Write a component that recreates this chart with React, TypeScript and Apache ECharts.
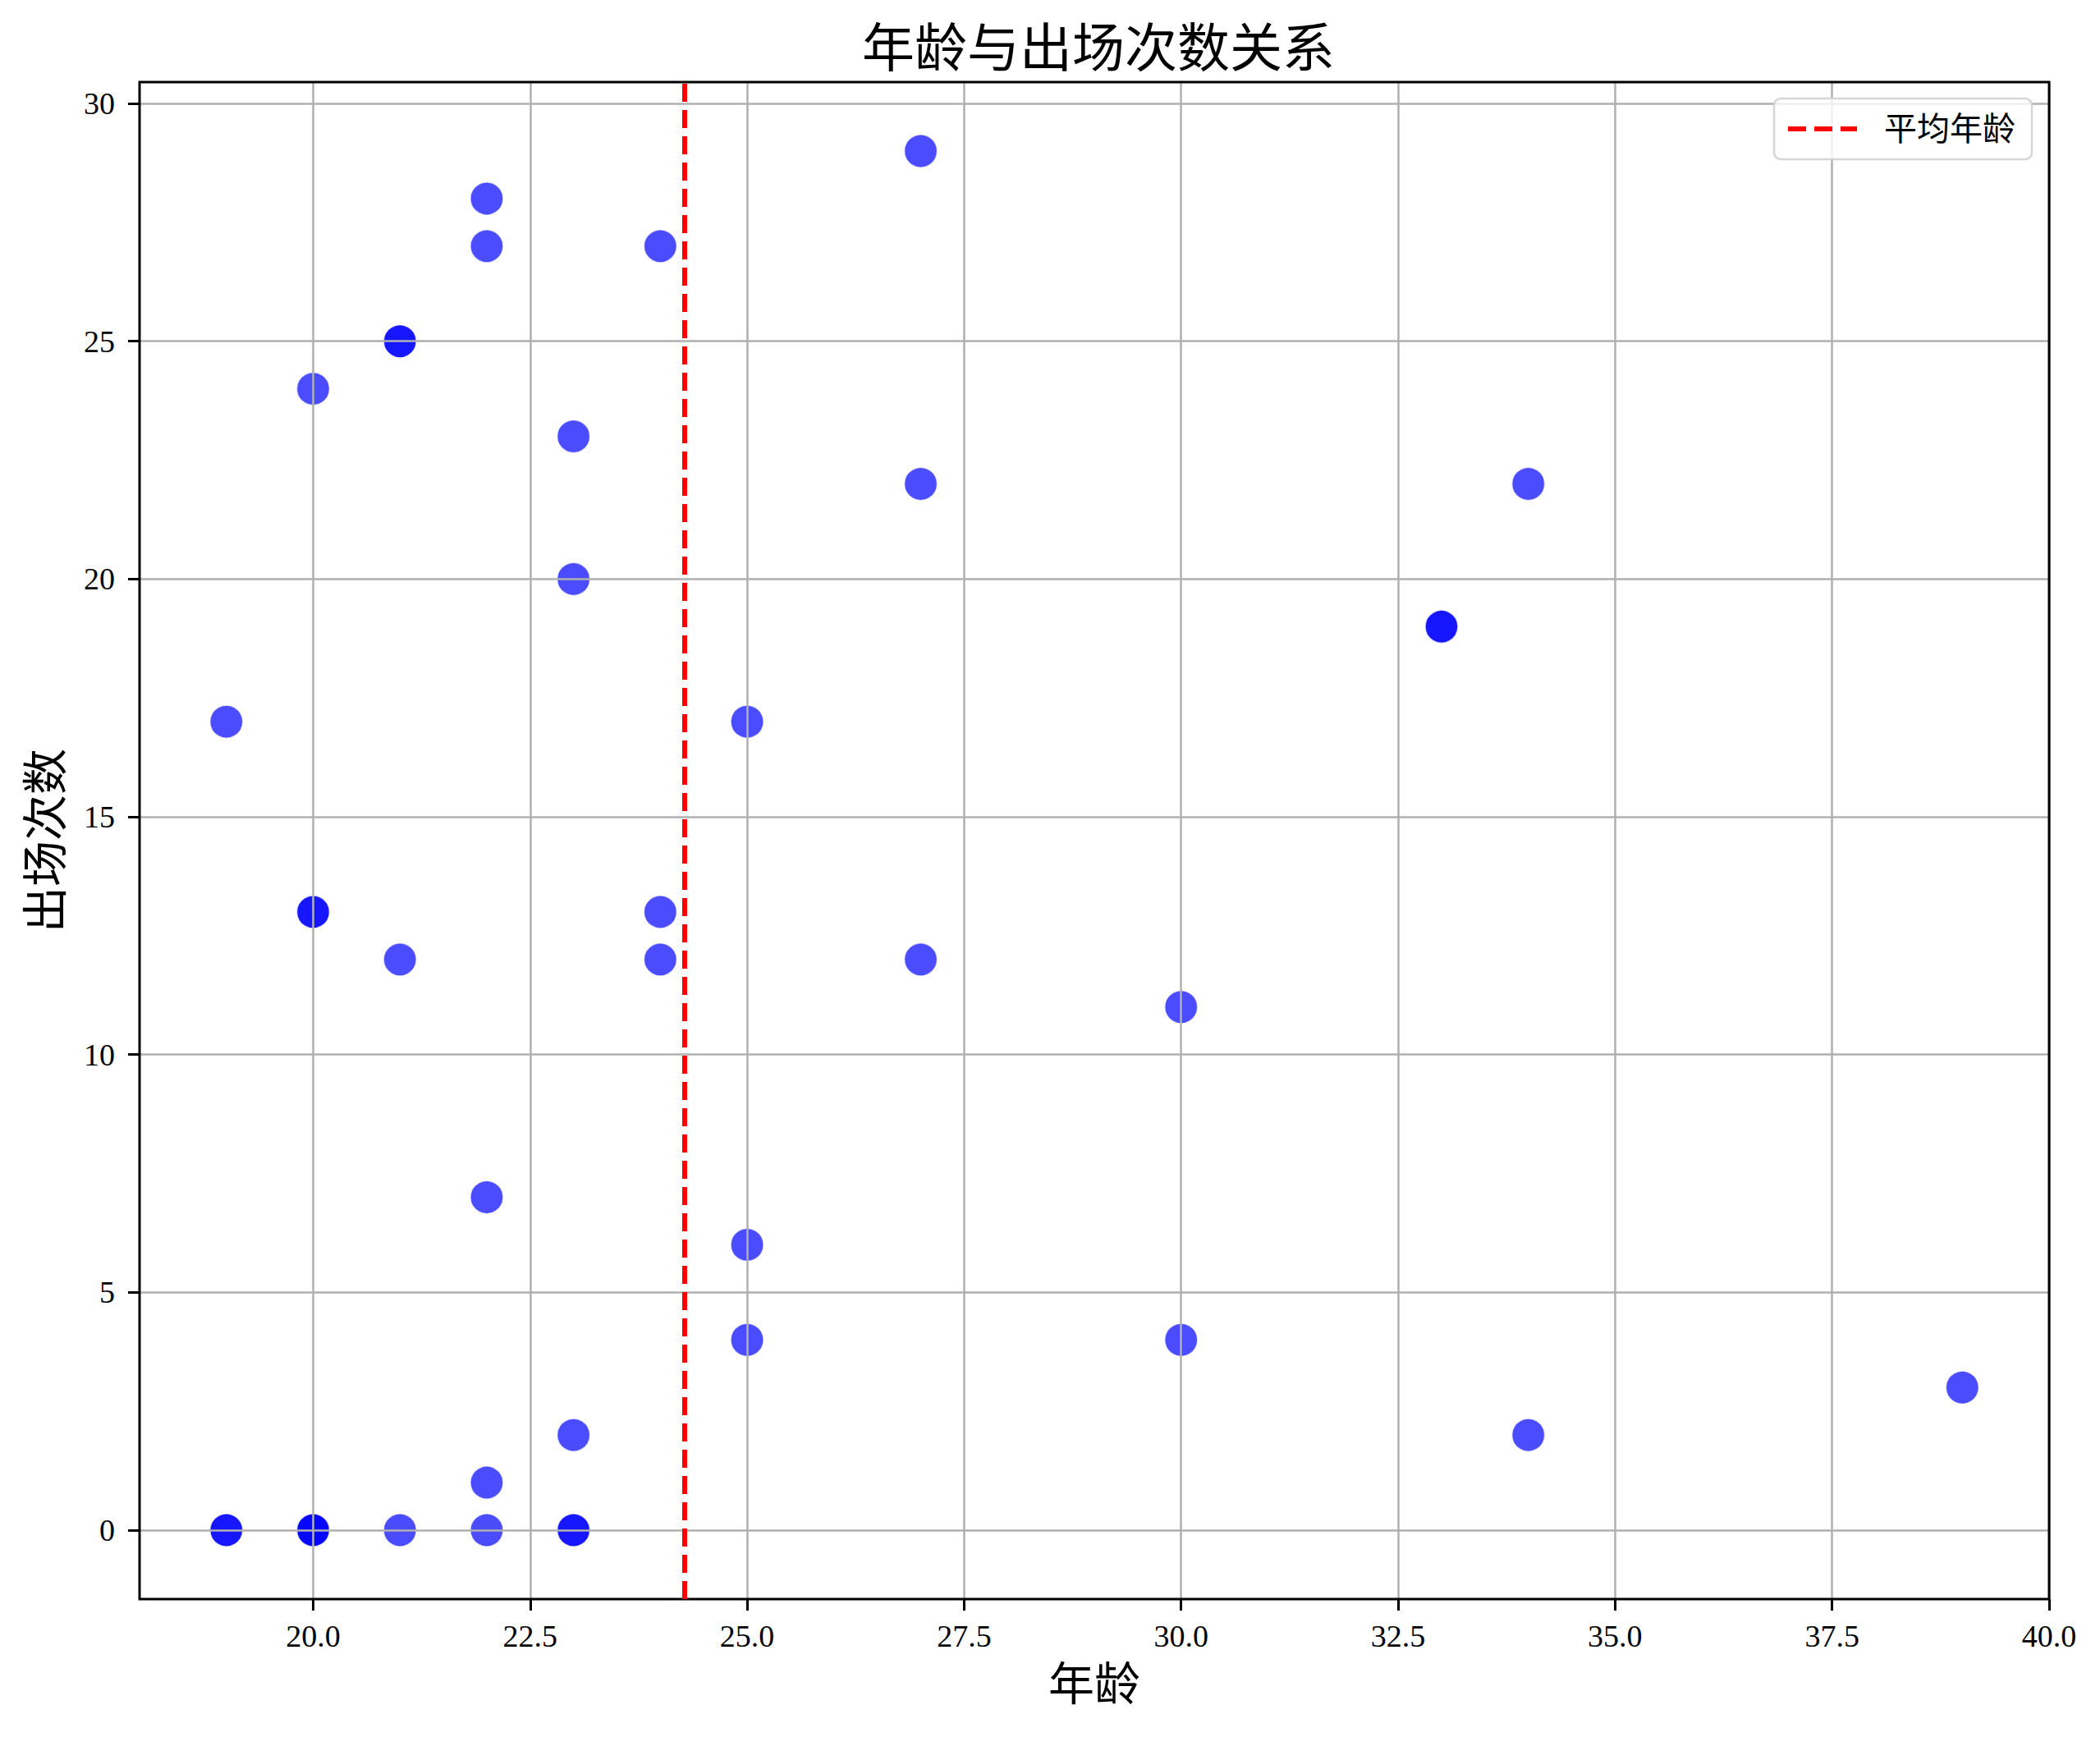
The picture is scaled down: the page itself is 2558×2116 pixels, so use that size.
import React, { useEffect, useRef } from "react";
import * as echarts from "echarts";

// Data (overlapping duplicates included)
const AGES = [
  19, 19, 19,
  20, 20, 20, 20, 20, 20,
  21, 21, 21, 21,
  22, 22, 22, 22, 22,
  23, 23, 23, 23, 23,
  24, 24, 24,
  25, 25, 25,
  27, 27, 27,
  30, 30,
  33, 33,
  34, 34,
  39,
];
const APPEARANCES = [
  17, 0, 0,
  24, 13, 13, 0, 0, 0,
  25, 25, 12, 0,
  28, 27, 7, 1, 0,
  23, 20, 2, 0, 0,
  27, 13, 12,
  17, 6, 4,
  29, 22, 12,
  11, 4,
  19, 19,
  22, 2,
  3,
];
const X_TICKS = [20, 22.5, 25, 27.5, 30, 32.5, 35, 37.5, 40];
const Y_TICKS = [0, 5, 10, 15, 20, 25, 30];
const X_RANGE = [18, 40];
const Y_RANGE = [-1.45, 30.45];

const TITLE = "年龄与出场次数关系";
const X_NAME = "年龄";
const Y_NAME = "出场次数";
const MEAN_NAME = "平均年龄";

const FONT = "'Liberation Serif', 'Noto Sans CJK SC', serif";
const DASH_ICON = "path://M0,0h22v6h-22z M32,0h22v6h-22z M64,0h20v6h-20z";

export default function App() {
  const ref = useRef<HTMLDivElement>(null);
  useEffect(() => {
    if (!ref.current) return;
    const chart = echarts.init(ref.current, undefined, { renderer: "svg" });
    const meanAge = AGES.reduce((a, b) => a + b, 0) / AGES.length;
    const points = AGES.map((a, i) => [a, APPEARANCES[i]]);
    const gridColor = "#b0b0b0";
    chart.setOption({
      animation: false,
      backgroundColor: "#ffffff",
      title: {
        text: TITLE,
        left: 1333,
        textAlign: "center",
        top: 22,
        textStyle: { fontFamily: FONT, fontSize: 64, fontWeight: "normal", color: "#000" },
      },
      legend: {
        right: 83,
        top: 120,
        z: 5,
        orient: "vertical",
        itemWidth: 84,
        itemHeight: 6,
        padding: [16, 20, 16, 17],
        backgroundColor: "rgba(255,255,255,0.8)",
        borderColor: "#d6d6d6",
        borderWidth: 2.5,
        borderRadius: 8,
        itemStyle: { color: "#ff0000", borderWidth: 0 },
        textStyle: {
          fontFamily: FONT,
          fontSize: 40,
          lineHeight: 42,
          color: "#000",
          padding: [0, 0, 0, 28],
        },
        data: [{ name: MEAN_NAME, icon: DASH_ICON }],
      },
      grid: {
        left: 170,
        top: 100,
        right: 62,
        bottom: 168,
        z: 4,
        show: true,
        borderColor: "#000",
        borderWidth: 3,
        backgroundColor: "transparent",
        containLabel: false,
      },
      xAxis: {
        type: "value",
        min: X_RANGE[0],
        max: X_RANGE[1],
        z: 1.5,
        name: X_NAME,
        nameLocation: "middle",
        nameGap: 76,
        nameTextStyle: { fontFamily: FONT, fontSize: 56, color: "#000" },
        axisLine: { show: false, onZero: false },
        axisTick: {
          show: true,
          length: 14,
          lineStyle: { color: "#000", width: 3 },
          customValues: X_TICKS,
        },
        axisLabel: {
          customValues: X_TICKS,
          margin: 26,
          fontFamily: FONT,
          fontSize: 38,
          color: "#000",
          formatter: (v: number) => v.toFixed(1),
        },
        splitLine: { show: true, lineStyle: { color: gridColor, width: 2.5 } },
      },
      yAxis: {
        type: "value",
        min: Y_RANGE[0],
        max: Y_RANGE[1],
        z: 1.5,
        name: Y_NAME,
        nameLocation: "middle",
        nameGap: 86,
        nameRotate: 90,
        nameTextStyle: { fontFamily: FONT, fontSize: 56, color: "#000" },
        axisLine: { show: false, onZero: false },
        axisTick: {
          show: true,
          length: 14,
          lineStyle: { color: "#000", width: 3 },
          customValues: Y_TICKS,
        },
        axisLabel: {
          customValues: Y_TICKS,
          margin: 30,
          fontFamily: FONT,
          fontSize: 38,
          color: "#000",
          formatter: (v: number) => String(Math.round(v)),
        },
        splitLine: { show: true, lineStyle: { color: gridColor, width: 2.5 } },
      },
      series: [
        {
          type: "scatter",
          z: 1,
          data: points,
          symbol: "circle",
          symbolSize: 40,
          itemStyle: {
            color: "#0000ff",
            opacity: 0.7,
            borderColor: "#ffffff",
            borderWidth: 1.5,
          },
          emphasis: { disabled: true },
        },
        {
          type: "line",
          name: MEAN_NAME,
          z: 3,
          data: [],
          symbol: "none",
          color: "#ff0000",
          lineStyle: { color: "#ff0000", width: 6, type: [22, 10] },
          markLine: {
            silent: true,
            symbol: "none",
            label: { show: false },
            lineStyle: { color: "#ff0000", width: 6, type: [22, 10] },
            data: [{ xAxis: meanAge }],
          },
        },
      ],
    });
    return () => chart.dispose();
  }, []);
  return (
    <div
      ref={ref}
      style={{ position: "absolute", left: 0, top: 0, width: 2558, height: 2116 }}
    />
  );
}
